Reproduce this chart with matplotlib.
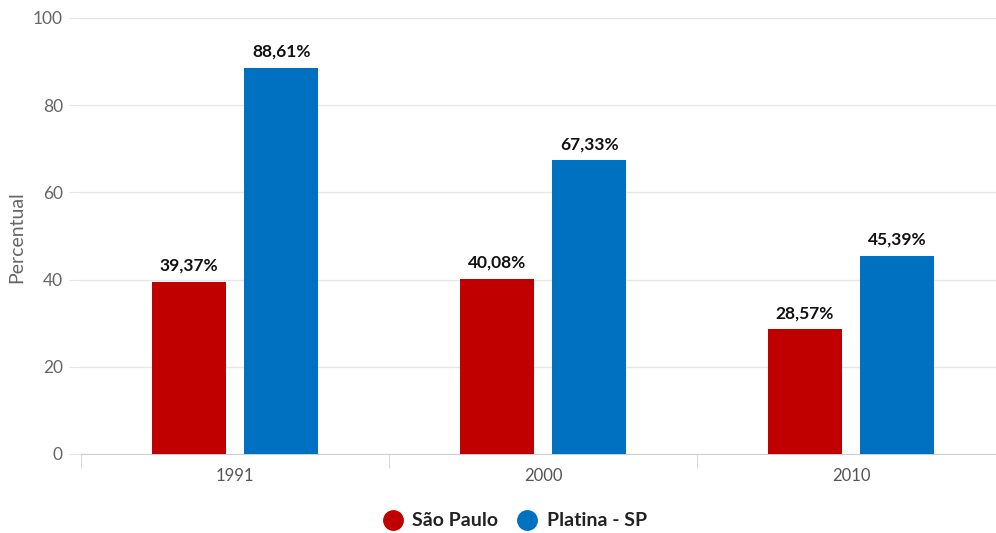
import numpy as np
import matplotlib
matplotlib.use("Agg")
import matplotlib.pyplot as plt
from matplotlib.lines import Line2D

# ── data ──────────────────────────────────────────────────────────────────────
years = ["1991", "2000", "2010"]
sao_paulo = [39.37, 40.08, 28.57]
platina = [88.61, 67.33, 45.39]
series_names = ["São Paulo", "Platina - SP"]
y_ticks = [0, 20, 40, 60, 80, 100]

RED = "#c00000"
BLUE = "#0070c0"
GRID = "#e6e6e6"
FONT = ["Lato", "DejaVu Sans"]

fig = plt.figure(figsize=(9.96, 5.33), dpi=100)
ax = fig.add_axes([81 / 996, 79 / 533, 924 / 996, 436 / 533])

x = np.arange(len(years))
w = 0.24
off = 0.15
b1 = ax.bar(x - off, sao_paulo, w, color=RED, zorder=3)
b2 = ax.bar(x + off, platina, w, color=BLUE, zorder=3)

def fmt(v):
    return f"{v:.2f}".replace(".", ",") + "%"

for bars, vals in ((b1, sao_paulo), (b2, platina)):
    for rect, v in zip(bars, vals):
        ax.annotate(fmt(v), (rect.get_x() + rect.get_width() / 2, v),
                    xytext=(0, 6), textcoords="offset points",
                    ha="center", va="bottom", fontsize=12.5,
                    fontweight="bold", color="#111111", family=FONT)

ax.set_xlim(-0.5, 2.5)
ax.set_ylim(0, 100)
ax.set_yticks(y_ticks)
ax.set_yticklabels([str(t) for t in y_ticks], color="#666666",
                   fontsize=12.5, family=FONT)
ax.grid(axis="y", color=GRID, lw=1, zorder=0)
ax.tick_params(axis="y", length=9, color=GRID, pad=4)

# category labels centred, ticks at the boundaries
ax.set_xticks(x)
ax.set_xticklabels(years, color="#555555", fontsize=12, family=FONT)
ax.tick_params(axis="x", length=0, pad=10)
ax.set_xticks(np.arange(-0.5, len(years), 1.0), minor=True)
ax.tick_params(axis="x", which="minor", length=10, color="#d0d0d0")

for s in ("top", "right", "left"):
    ax.spines[s].set_visible(False)
ax.spines["bottom"].set_color("#d0d0d0")
ax.set_axisbelow(True)

fig.text(17 / 996, 1 - 237 / 533, "Percentual", rotation=90, ha="center",
         va="center", color="#666666", fontsize=14, family=FONT)

handles = [Line2D([], [], marker="o", ls="", markersize=14, color=c)
           for c in (RED, BLUE)]
leg = fig.legend(handles, series_names, loc="center",
                 bbox_to_anchor=(510 / 996, 1 - 521 / 533), ncol=2,
                 frameon=False, handletextpad=0.0, columnspacing=0.5,
                 borderpad=0.1,
                 prop={"family": FONT, "weight": "bold", "size": 14})
for t in leg.get_texts():
    t.set_color("#222222")

fig.savefig("out.png", dpi=100)
